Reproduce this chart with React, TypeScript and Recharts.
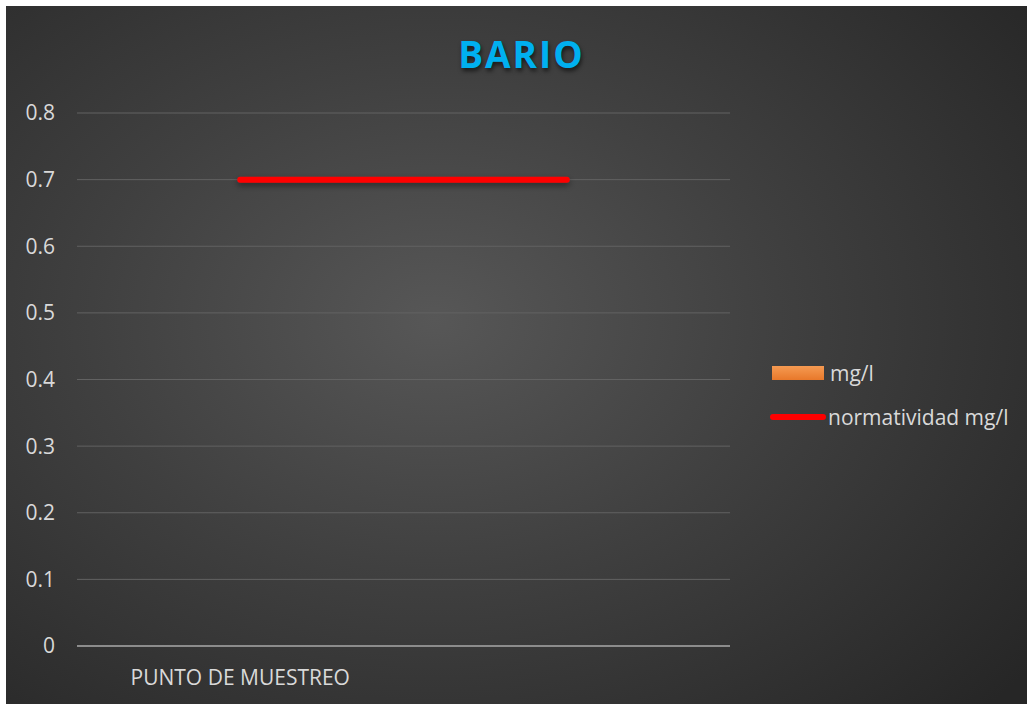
import React from "react";
import {
  ComposedChart,
  Bar,
  Line,
  XAxis,
  YAxis,
  CartesianGrid,
  Legend,
} from "recharts";

const categories = ["PUNTO DE MUESTREO", ""];
const mgL: (number | null)[] = [0, null];
const normatividad = [0.7, 0.7];
const yTicks = [0, 0.1, 0.2, 0.3, 0.4, 0.5, 0.6, 0.7, 0.8];

const data = categories.map((c, i) => ({
  name: c,
  mg: mgL[i],
  norma: normatividad[i],
}));

const W = 1021;
const H = 698;
const FONT = "'Open Sans', 'Noto Sans', sans-serif";
const LEGEND_W = 255;

const LegendContent = () => (
  <div style={{ fontFamily: FONT, fontSize: 21, color: "#d9d9d9", width: LEGEND_W }}>
    <div style={{ display: "flex", alignItems: "center", height: 30 }}>
      <div
        style={{
          width: 52,
          height: 14,
          background: "linear-gradient(#f59a52, #e8782a)",
          marginRight: 6,
        }}
      />
      <span>mg/l</span>
    </div>
    <div style={{ display: "flex", alignItems: "center", height: 30, marginTop: 14 }}>
      <div
        style={{
          width: 56,
          height: 6,
          borderRadius: 3,
          background: "#ff0000",
          marginRight: 2,
          marginLeft: -2,
        }}
      />
      <span>normatividad mg/l</span>
    </div>
  </div>
);

export default function App() {
  return (
    <div
      style={{
        position: "absolute",
        left: 6,
        top: 6,
        width: W,
        height: H,
        background:
          "radial-gradient(ellipse 75% 80% at 42% 45%, #575757 0%, #404040 45%, #262626 100%)",
        overflow: "hidden",
      }}
    >
      <div
        style={{
          position: "absolute",
          top: 22,
          left: 0,
          width: W,
          textAlign: "center",
          fontFamily: FONT,
          fontWeight: 700,
          fontSize: 37,
          letterSpacing: 2,
          color: "#00b0f0",
          textShadow: "1px 3px 4px rgba(0,0,0,0.6)",
          paddingLeft: 10,
          boxSizing: "border-box",
        }}
      >
        BARIO
      </div>
      <ComposedChart
        width={W}
        height={H}
        data={data}
        margin={{ top: 107, right: 297 - LEGEND_W, bottom: 18, left: 0 }}
        style={{ position: "absolute", left: 0, top: 0 }}
      >
        <defs>
          <filter
            id="glow"
            filterUnits="userSpaceOnUse"
            x="0"
            y="0"
            width={W}
            height={H}
          >
            <feGaussianBlur in="SourceAlpha" stdDeviation="3" />
            <feOffset dx="0" dy="3" result="b" />
            <feFlood floodColor="#000" floodOpacity="0.45" />
            <feComposite in2="b" operator="in" />
            <feMerge>
              <feMergeNode />
              <feMergeNode in="SourceGraphic" />
            </feMerge>
          </filter>
        </defs>
        <CartesianGrid vertical={false} stroke="#626262" strokeWidth={1} />
        <XAxis
          dataKey="name"
          height={40}
          tickSize={0}
          tickMargin={24}
          axisLine={{ stroke: "#8c8c8c", strokeWidth: 2 }}
          tick={{ fill: "#d9d9d9", fontSize: 21, fontFamily: FONT }}
          interval={0}
        />
        <YAxis
          width={71}
          domain={[0, 0.8]}
          ticks={yTicks}
          tickSize={0}
          tickMargin={22}
          axisLine={false}
          tick={{ fill: "#d9d9d9", fontSize: 21, fontFamily: FONT }}
        />
        <Bar dataKey="mg" name="mg/l" fill="#ed7d31" isAnimationActive={false} />
        <Line
          dataKey="norma"
          name="normatividad mg/l"
          stroke="#ff0000"
          strokeWidth={6}
          strokeLinecap="round"
          dot={false}
          activeDot={false}
          isAnimationActive={false}
          style={{ filter: "url(#glow)" }}
        />
        <Legend
          layout="vertical"
          align="right"
          verticalAlign="top"
          content={<LegendContent />}
          wrapperStyle={{ left: 766, top: 352, width: LEGEND_W }}
        />
      </ComposedChart>
    </div>
  );
}
